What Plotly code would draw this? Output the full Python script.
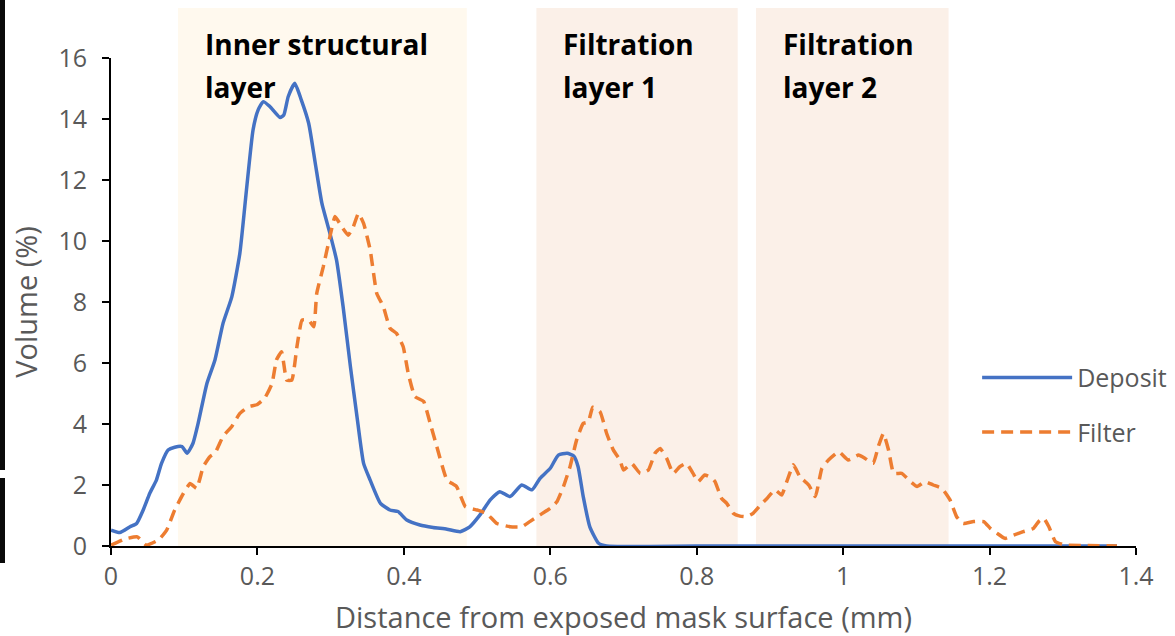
import plotly.graph_objects as go

deposit_points = [
    (0.000, 0.52), (0.012, 0.44), (0.026, 0.63), (0.035, 0.74), (0.044, 1.18),
    (0.053, 1.73), (0.062, 2.16), (0.069, 2.71), (0.078, 3.15), (0.087, 3.24),
    (0.097, 3.26), (0.104, 3.04), (0.112, 3.37), (0.119, 4.02), (0.131, 5.33),
    (0.142, 6.10), (0.153, 7.30), (0.165, 8.17), (0.176, 9.60), (0.185, 11.67),
    (0.194, 13.64), (0.201, 14.30), (0.208, 14.57), (0.217, 14.41), (0.231, 14.05),
    (0.236, 14.13), (0.242, 14.73), (0.251, 15.17), (0.260, 14.62), (0.270, 13.86),
    (0.279, 12.55), (0.288, 11.24), (0.299, 10.25), (0.308, 9.38), (0.317, 7.85),
    (0.327, 5.88), (0.336, 4.24), (0.345, 2.71), (0.354, 2.16), (0.368, 1.40),
    (0.381, 1.18), (0.392, 1.13), (0.404, 0.85), (0.422, 0.69), (0.440, 0.61),
    (0.459, 0.55), (0.477, 0.47), (0.490, 0.63), (0.504, 1.02), (0.518, 1.51),
    (0.531, 1.78), (0.545, 1.62), (0.561, 2.00), (0.575, 1.84), (0.586, 2.22),
    (0.600, 2.55), (0.611, 2.98), (0.623, 3.04), (0.632, 2.95), (0.638, 2.60),
    (0.645, 1.62), (0.654, 0.63), (0.666, 0.09), (0.677, 0.00), (0.800, 0.00),
    (1.000, 0.00), (1.200, 0.00), (1.374, 0.00),
]

filter_points = [
    (0.000, 0.03), (0.019, 0.23), (0.036, 0.30), (0.048, 0.03), (0.065, 0.20),
    (0.076, 0.52), (0.087, 1.18), (0.099, 1.73), (0.108, 2.05), (0.117, 1.89),
    (0.126, 2.60), (0.135, 2.93), (0.142, 3.04), (0.153, 3.59), (0.165, 3.92),
    (0.176, 4.35), (0.188, 4.57), (0.199, 4.63), (0.210, 4.85), (0.220, 5.33),
    (0.226, 6.10), (0.233, 6.37), (0.240, 5.44), (0.247, 5.44), (0.254, 6.54),
    (0.261, 7.41), (0.270, 7.41), (0.277, 7.19), (0.281, 8.28), (0.290, 9.16),
    (0.299, 10.14), (0.306, 10.80), (0.315, 10.47), (0.324, 10.19), (0.331, 10.47),
    (0.338, 10.91), (0.345, 10.58), (0.354, 9.71), (0.363, 8.28), (0.372, 7.85),
    (0.381, 7.14), (0.390, 6.97), (0.399, 6.54), (0.406, 5.66), (0.415, 4.90),
    (0.427, 4.74), (0.436, 4.02), (0.445, 3.26), (0.459, 2.16), (0.472, 1.95),
    (0.484, 1.29), (0.500, 1.18), (0.513, 1.07), (0.527, 0.74), (0.545, 0.63),
    (0.561, 0.63), (0.572, 0.80), (0.586, 1.02), (0.600, 1.24), (0.609, 1.45),
    (0.618, 1.95), (0.627, 2.60), (0.636, 3.48), (0.645, 4.02), (0.652, 4.07),
    (0.658, 4.55), (0.668, 4.40), (0.677, 3.69), (0.686, 3.15), (0.695, 2.82),
    (0.700, 2.49), (0.711, 2.71), (0.723, 2.38), (0.734, 2.49), (0.743, 3.04),
    (0.750, 3.20), (0.759, 2.87), (0.768, 2.38), (0.777, 2.60), (0.786, 2.71),
    (0.795, 2.38), (0.802, 2.11), (0.811, 2.33), (0.821, 2.22), (0.825, 2.11),
    (0.834, 1.56), (0.841, 1.40), (0.850, 1.07), (0.859, 0.98), (0.868, 0.96),
    (0.877, 1.07), (0.887, 1.34), (0.896, 1.56), (0.907, 1.84), (0.916, 1.67),
    (0.923, 2.11), (0.932, 2.66), (0.941, 2.27), (0.953, 2.00), (0.962, 1.62),
    (0.971, 2.55), (0.980, 2.82), (0.994, 3.09), (1.007, 2.82), (1.021, 2.98),
    (1.030, 2.87), (1.041, 2.71), (1.048, 3.26), (1.055, 3.69), (1.062, 3.15),
    (1.069, 2.38), (1.080, 2.38), (1.092, 2.11), (1.101, 1.95), (1.112, 2.11),
    (1.123, 2.00), (1.135, 1.89), (1.146, 1.51), (1.155, 0.96), (1.164, 0.74),
    (1.178, 0.80), (1.192, 0.80), (1.201, 0.58), (1.210, 0.42), (1.221, 0.25),
    (1.233, 0.36), (1.246, 0.47), (1.260, 0.58), (1.267, 0.80), (1.274, 0.91),
    (1.281, 0.63), (1.290, 0.14), (1.303, 0.03), (1.330, 0.02), (1.374, 0.00),
]

layer_names = [["Inner structural", "layer"], ["Filtration", "layer 1"], ["Filtration", "layer 2"]]
layer_bounds = [(0.0915, 0.486), (0.581, 0.856), (0.881, 1.144)]
layer_colors = ["#FFF9EE", "#FBF0E8", "#FBF0E8"]
x_ticks = [0, 0.2, 0.4, 0.6, 0.8, 1, 1.2, 1.4]
y_ticks = [0, 2, 4, 6, 8, 10, 12, 14, 16]

FONT = "Open Sans"
GRAY = "#595959"

fig = go.Figure()
fig.add_trace(go.Scatter(
    x=[p[0] for p in deposit_points], y=[p[1] for p in deposit_points],
    mode="lines", name="Deposit", legendgroup="a",
    line=dict(color="#4472C4", width=3.5, shape="spline", smoothing=0.5),
))
fig.add_trace(go.Scatter(
    x=[p[0] for p in filter_points], y=[p[1] for p in filter_points],
    mode="lines", name="Filter", legendgroup="b",
    line=dict(color="#ED7D31", width=3.5, dash="12px,7px", shape="spline", smoothing=0.4),
))

for (x0, x1), col in zip(layer_bounds, layer_colors):
    fig.add_shape(type="rect", xref="x", yref="paper", x0=x0, x1=x1, y0=0, y1=1.1025,
                  fillcolor=col, line=dict(width=0), layer="below")

for (x0, x1), lines in zip(layer_bounds, layer_names):
    for i, t in enumerate(lines):
        fig.add_annotation(xref="x", yref="paper", x=x0 + 0.0335, y=(546 - 44 - i * 43) / 488,
                           text="<b>" + t + "</b>", showarrow=False, xanchor="left", yanchor="middle",
                           font=dict(family=FONT, size=28, color="#000000"))

# dark strip at left edge of the original image
fig.add_shape(type="rect", xref="paper", yref="paper", x0=-111 / 1025, x1=-106 / 1025,
              y0=(546 - 470) / 488, y1=546 / 488 + 0.2, fillcolor="#0a0a0a", line=dict(width=0))
fig.add_shape(type="rect", xref="paper", yref="paper", x0=-111 / 1025, x1=-106 / 1025,
              y0=(546 - 563) / 488, y1=(546 - 478) / 488, fillcolor="#0a0a0a", line=dict(width=0))

fig.update_layout(
    width=1175, height=636,
    margin=dict(l=111, r=39, t=58, b=90, autoexpand=False),
    paper_bgcolor="white", plot_bgcolor="rgba(0,0,0,0)",
    font=dict(family=FONT, size=25, color=GRAY),
    showlegend=True,
    legend=dict(x=0.845, y=0.392, xanchor="left", yanchor="top", bgcolor="rgba(0,0,0,0)",
                font=dict(family=FONT, size=25, color=GRAY), tracegroupgap=19, itemwidth=90),
    xaxis=dict(range=[0, 1.4], tickvals=x_ticks, ticktext=[f"{v:g}" for v in x_ticks],
               showgrid=False, zeroline=False, showline=True, linecolor="black", linewidth=2,
               ticks="outside", ticklen=7, tickwidth=2, tickcolor="black", automargin=False,
               title=dict(text="Distance from exposed mask surface (mm)", font=dict(size=29, color=GRAY), standoff=18)),
    yaxis=dict(range=[0, 16], tickvals=y_ticks, showgrid=False, zeroline=False, showline=True,
               linecolor="black", linewidth=2, ticks="outside", ticklen=7, tickwidth=2, tickcolor="black",
               ticklabelstandoff=10, automargin=False,
               title=dict(text="Volume (%)", font=dict(size=29, color=GRAY), standoff=12)),
)

fig.write_html("out.html", config={"displayModeBar": False},
               post_script="document.body.style.margin='0px';")
